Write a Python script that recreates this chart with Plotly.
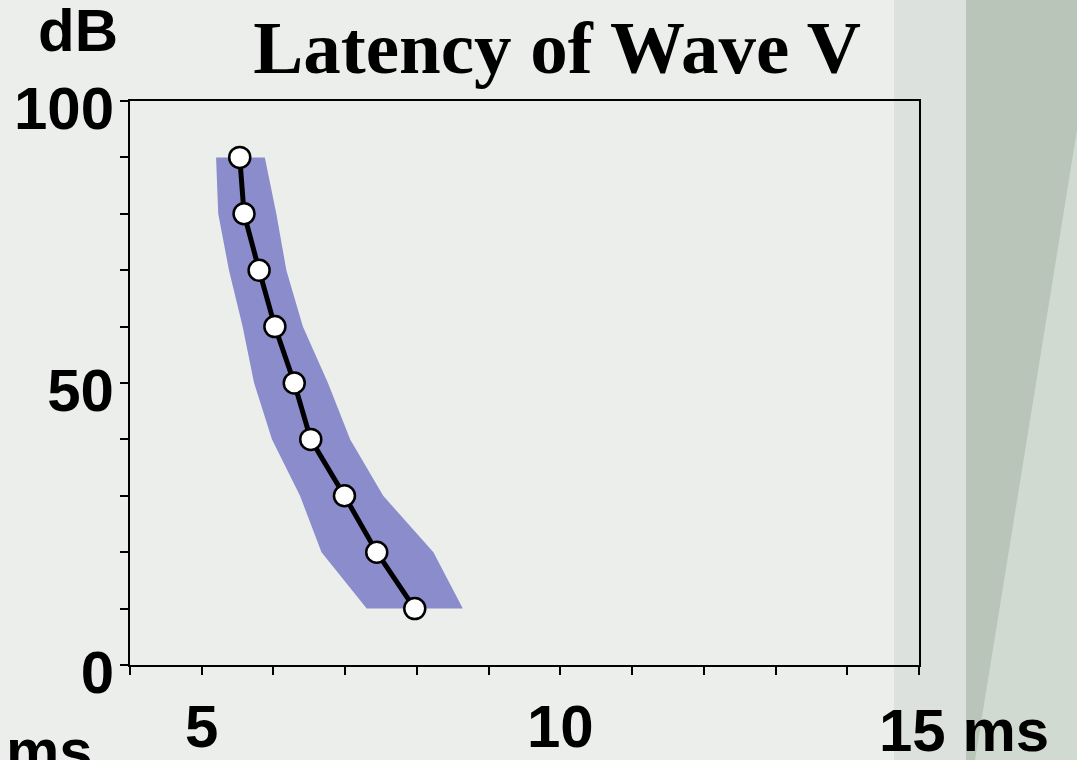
import plotly.graph_objects as go

# Stimulus level (dB) and mean latency of wave V (ms)
level_db = [90, 80, 70, 60, 50, 40, 30, 20, 10]
latency_ms = [5.53, 5.59, 5.80, 6.02, 6.29, 6.52, 6.99, 7.44, 7.97]

# Normal range of the latency at each level (ms)
range_low_ms = [5.20, 5.23, 5.38, 5.57, 5.73, 5.98, 6.37, 6.67, 7.30]
range_high_ms = [5.88, 6.04, 6.18, 6.41, 6.76, 7.07, 7.53, 8.23, 8.64]

# Axis ticks
x_tickvals = list(range(4, 16))
x_ticktext = ["" if v not in (5, 10) else str(v) for v in x_tickvals]
y_tickvals = list(range(0, 101, 10))
y_ticktext = [str(v) if v in (0, 50, 100) else "" for v in y_tickvals]

SANS = "Liberation Sans, Arial, sans-serif"
SERIF = "Liberation Serif, Times New Roman, serif"

fig = go.Figure()

# Shaded normal range: down the low edge, back up the high edge
fig.add_trace(go.Scatter(
    x=range_low_ms + range_high_ms[::-1],
    y=level_db + level_db[::-1],
    mode="lines",
    fill="toself",
    fillcolor="#8b8ccb",
    line=dict(width=0),
    hoverinfo="skip",
    showlegend=False,
))

# Mean latency curve
fig.add_trace(go.Scatter(
    x=latency_ms,
    y=level_db,
    mode="lines+markers",
    line=dict(color="black", width=5),
    marker=dict(size=21, color="white", line=dict(color="black", width=2.5)),
    showlegend=False,
))

# Plot area spans x 130..919 px, y 101..665 px
L, R, T, B = 130, 919, 101, 665
W, H = 1077, 760


def px_x(p):
    return (p - L) / (R - L)


def px_y(p):
    return (B - p) / (B - T)


shapes = [
    # pale vertical strip
    dict(type="rect", xref="paper", yref="paper", x0=px_x(894), x1=px_x(966),
         y0=px_y(H), y1=px_y(0), fillcolor="#dde1dd", line=dict(width=0),
         layer="below"),
    # green-grey strip at the right edge
    dict(type="rect", xref="paper", yref="paper", x0=px_x(966), x1=px_x(W),
         y0=px_y(H), y1=px_y(0), fillcolor="#b9c5b9", line=dict(width=0),
         layer="below"),
    # lighter diagonal highlight on the strip
    dict(type="path", xref="paper", yref="paper",
         path="M {a},{b} L {c},{d} L {e},{f} Z".format(
             a=px_x(W), b=px_y(130), c=px_x(975), d=px_y(H),
             e=px_x(W), f=px_y(H)),
         fillcolor="#d0dad0", line=dict(width=0), layer="below"),
]

annotations = [
    dict(text="dB", xref="paper", yref="paper", x=px_x(36), y=px_y(30),
         xanchor="left", yanchor="middle", showarrow=False,
         font=dict(family=SANS, size=60, color="black", weight="bold")),
    dict(text="15 ms", xref="x", yref="paper", x=15, xshift=-42, y=px_y(730),
         xanchor="left", yanchor="middle", showarrow=False,
         font=dict(family=SANS, size=60, color="black", weight="bold")),
    dict(text="ms", xref="paper", yref="paper", x=px_x(4), y=px_y(750),
         xanchor="left", yanchor="middle", showarrow=False,
         font=dict(family=SANS, size=60, color="black", weight="bold")),
]

fig.update_layout(
    width=W, height=H,
    margin=dict(l=L, r=W - R, t=T, b=H - B, autoexpand=False),
    paper_bgcolor="#eceeec",
    plot_bgcolor="rgba(0,0,0,0)",
    title=dict(text="Latency of Wave V", x=557 / W, xanchor="center",
               y=1 - 47 / H, yanchor="middle",
               font=dict(family=SERIF, size=75, color="black", weight="bold")),
    shapes=shapes,
    annotations=annotations,
    xaxis=dict(range=[4, 15], tickvals=x_tickvals, ticktext=x_ticktext,
               showgrid=False, zeroline=False, showline=True, mirror=True,
               linecolor="black", linewidth=2, ticks="outside", ticklen=8,
               tickwidth=2, tickcolor="black", ticklabelstandoff=0,
               automargin=False,
               tickfont=dict(family=SANS, size=60, color="black", weight="bold")),
    yaxis=dict(range=[0, 100], tickvals=y_tickvals, ticktext=y_ticktext,
               showgrid=False, zeroline=False, showline=True, mirror=True,
               linecolor="black", linewidth=2, ticks="outside", ticklen=8,
               tickwidth=2, tickcolor="black", ticklabelshift=7,
               ticklabelstandoff=-6, automargin=False,
               tickfont=dict(family=SANS, size=60, color="black", weight="bold")),
)

fig.write_html("out.html")
